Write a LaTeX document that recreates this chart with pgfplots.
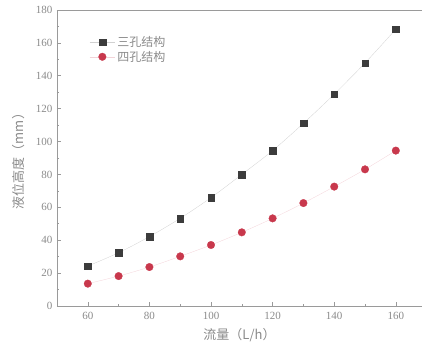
\documentclass[border=0pt]{standalone}
\usepackage{pgfplots}
\pgfplotsset{compat=1.18}
\usepackage{fontspec}
\setmainfont{Liberation Serif}
\newfontfamily\cjk{Noto Sans CJK SC}
\definecolor{sqc}{HTML}{3C3C3C}
\definecolor{cic}{HTML}{C8384C}
\definecolor{txt}{HTML}{8A8A8A}
\definecolor{axc}{HTML}{9A9A9A}
\begin{document}
\begin{tikzpicture}
\begin{axis}[
  scale only axis, width=365pt, height=296pt,
  xmin=50, xmax=168.5, ymin=0, ymax=180,
  axis y line*=left,
  axis line style={axc, line width=0.8pt},
  xtick={60,80,...,160}, ytick={0,20,...,180},
  minor x tick num=1, minor y tick num=1,
  tick align=inside,
  major tick length=4pt, minor tick length=2.5pt,
  tick style={axc, line width=0.6pt},
  xtick pos=bottom,
  ticklabel style={txt, font=\fontsize{11}{13}\selectfont},
  xticklabel style={yshift=-3pt},
  yticklabel style={xshift=-1pt},
  /pgf/number format/assume math mode=true,
  xlabel={\cjk 流量（L/h）}, ylabel={\cjk 液位高度（mm）},
  label style={txt, font=\fontsize{13}{15}\selectfont},
  xlabel style={yshift=-2pt}, ylabel style={yshift=4pt},
  legend style={at={(0.08,0.925)}, anchor=north west, draw=none, fill=none,
    font=\cjk\fontsize{12}{14}\selectfont, text=txt, row sep=-1pt},
  legend cell align=left,
  legend image code/.code={\draw[#1, mark repeat=2, mark phase=2]
    plot coordinates {(0cm,0cm) (0.45cm,0cm) (0.9cm,0cm)};},
  clip=false,
]
\addplot[smooth, line width=0.3pt, draw=black!18, mark=square*, mark size=3.3pt,
  mark options={fill=sqc, draw=sqc}] coordinates {
  (60,24.3) (70,32.4) (80,42.2) (90,53.3) (100,65.9) (110,80.0)
  (120,94.5) (130,111.1) (140,128.8) (150,147.8) (160,168.3)};
\addlegendentry{三孔结构}
\addplot[smooth, line width=0.3pt, draw=cic!22, mark=*, mark size=3.8pt,
  mark options={fill=cic, draw=cic}] coordinates {
  (60,13.6) (70,18.2) (80,23.7) (90,30.2) (100,37.1) (110,44.8)
  (120,53.3) (130,62.6) (140,72.6) (150,83.1) (160,94.5)};
\addlegendentry{四孔结构}
\end{axis}
\pgfresetboundingbox
\path (-57pt,-43pt) rectangle (365pt,306pt);
\end{tikzpicture}
\end{document}
